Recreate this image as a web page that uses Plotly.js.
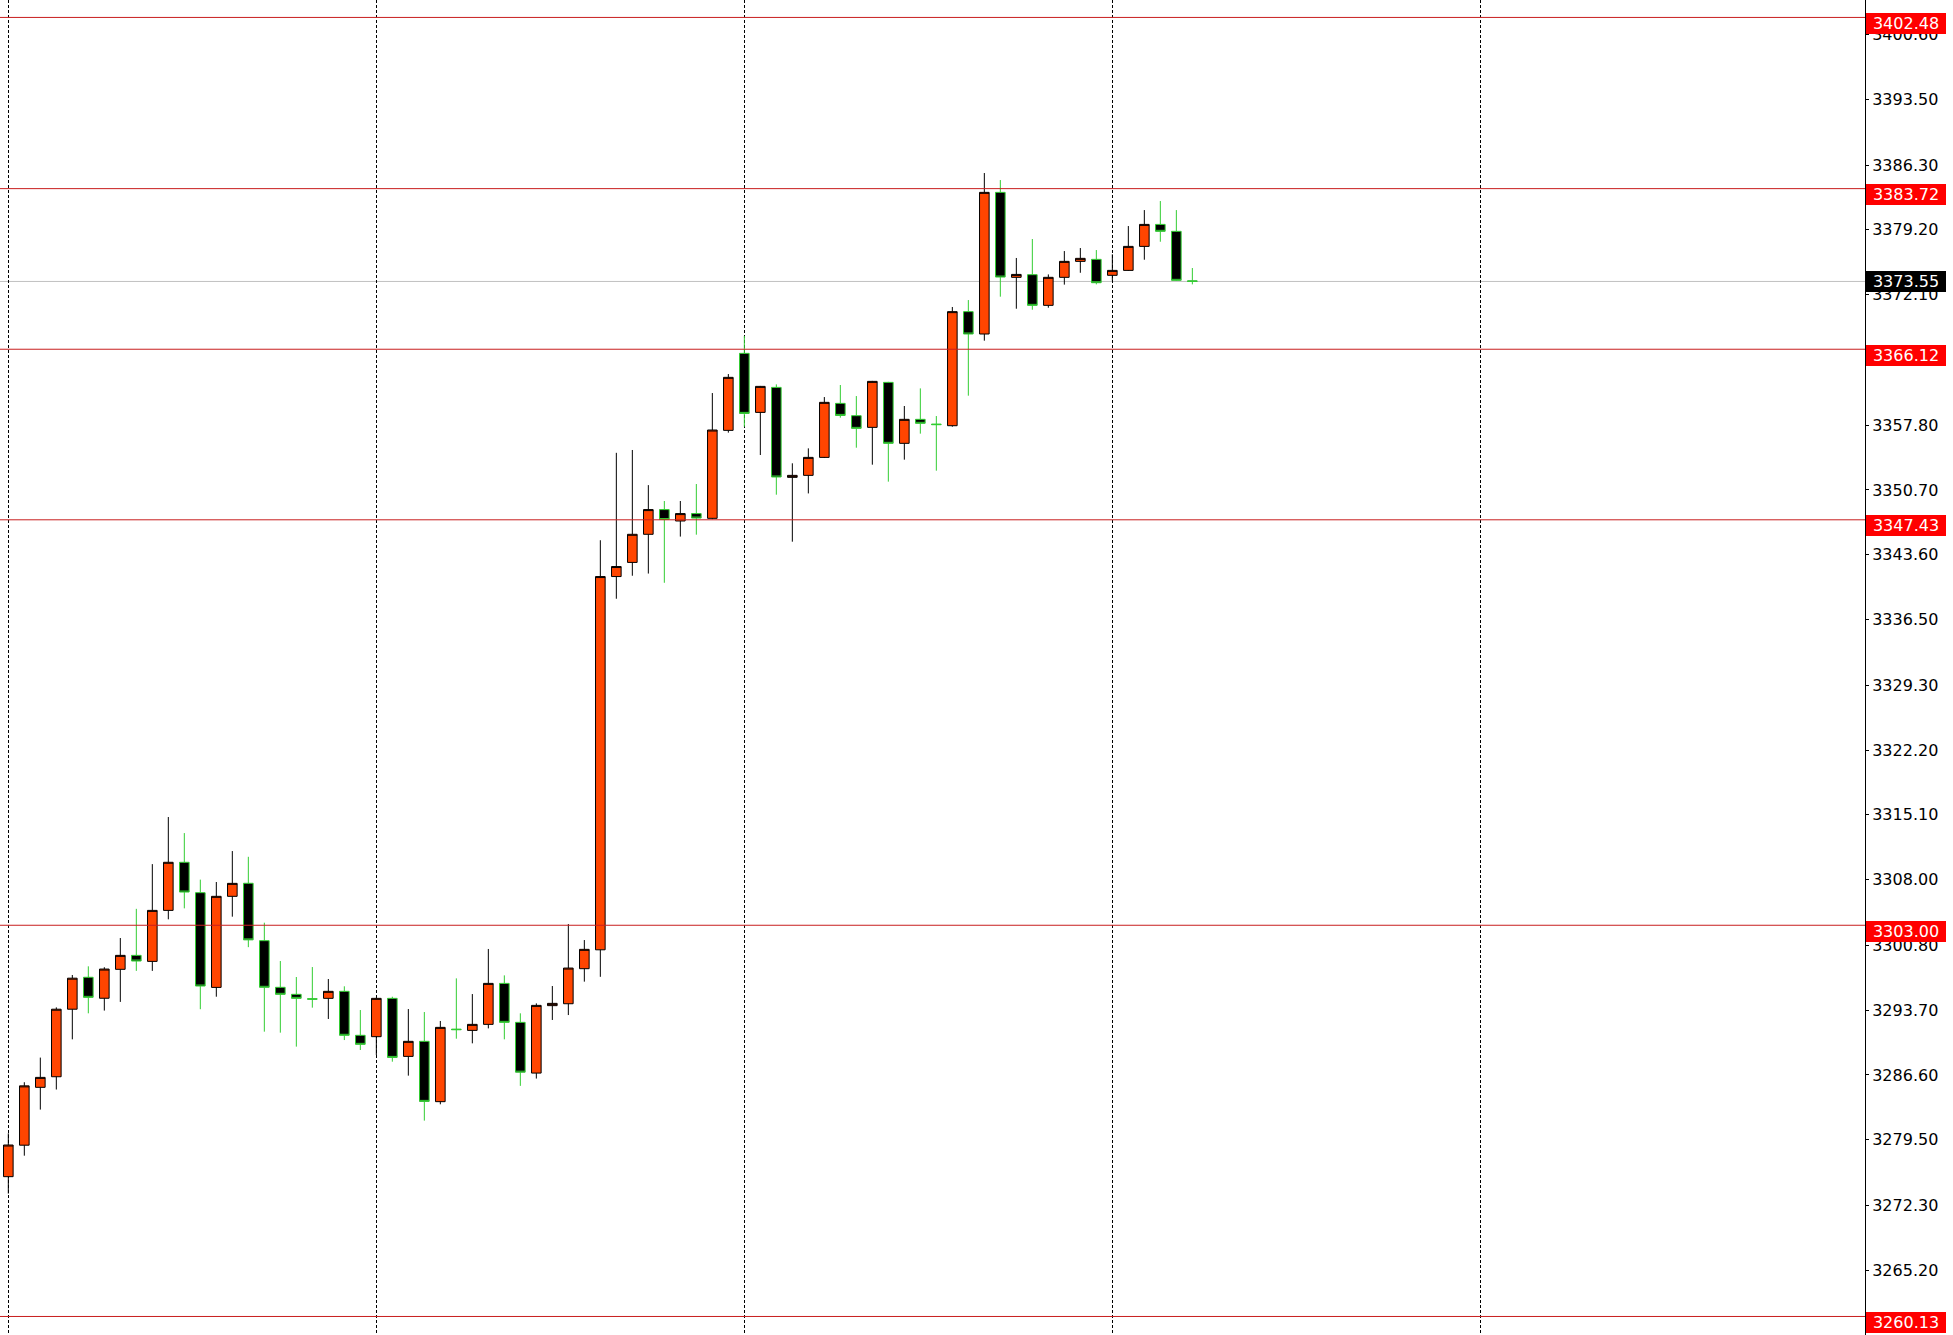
<!DOCTYPE html>
<html>
<head>
<meta charset="utf-8">
<script src="https://cdn.plot.ly/plotly-3.0.1.min.js"></script>
<style>
html, body { margin: 0; padding: 0; background: #ffffff; overflow: hidden; }
#chart { width: 1953px; height: 1335px; }
</style>
</head>
<body>
<div id="chart"></div>
<script>
// Bar index (time slot) of each candle
var barIndex = [];
for (var k = 0; k < 75; k++) barIndex.push(k);

var openPrices = [
  3275.45, 3278.90, 3285.24, 3286.40, 3293.80, 3297.30, 3295.00, 3298.17, 3299.70, 3299.04,
  3304.63, 3309.90, 3306.57, 3296.19, 3306.17, 3307.60, 3301.31, 3296.20, 3295.43, 3294.95,
  3294.99, 3295.76, 3290.94, 3290.79, 3294.99, 3288.63, 3290.28, 3283.67, 3291.62, 3291.48,
  3292.14, 3296.63, 3292.36, 3286.80, 3294.19, 3294.40, 3298.24, 3300.31, 3341.21, 3342.76,
  3345.84, 3348.55, 3347.30, 3348.11, 3347.59, 3357.23, 3365.67, 3359.20, 3361.94, 3352.08,
  3352.30, 3354.27, 3360.19, 3358.84, 3357.56, 3362.49, 3355.81, 3358.44, 3357.92, 3357.74,
  3370.24, 3367.79, 3383.31, 3374.00, 3374.29, 3370.93, 3374.00, 3375.75, 3375.97, 3374.22,
  3374.76, 3377.39, 3379.80, 3379.04, 3373.62
];
var highPrices = [
  3280.20, 3285.80, 3288.50, 3294.00, 3297.55, 3298.50, 3298.40, 3301.60, 3304.80, 3309.70,
  3314.86, 3313.10, 3308.00, 3307.74, 3311.13, 3310.50, 3303.28, 3299.08, 3297.33, 3298.42,
  3297.11, 3296.31, 3293.71, 3295.05, 3295.17, 3293.82, 3293.49, 3292.51, 3297.18, 3295.46,
  3300.40, 3297.51, 3293.35, 3294.44, 3296.34, 3303.13, 3301.38, 3345.19, 3354.77, 3355.08,
  3351.23, 3349.49, 3349.49, 3351.35, 3361.32, 3363.40, 3367.57, 3362.10, 3362.27, 3353.62,
  3355.26, 3360.88, 3362.20, 3360.99, 3362.65, 3362.55, 3359.90, 3361.83, 3358.80, 3370.75,
  3371.51, 3385.43, 3384.66, 3376.12, 3378.20, 3374.32, 3376.88, 3377.21, 3376.99, 3376.52,
  3379.62, 3381.37, 3382.36, 3381.37, 3375.02
];
var lowPrices = [
  3273.60, 3277.75, 3282.80, 3285.00, 3290.50, 3293.35, 3293.65, 3294.60, 3298.00, 3298.00,
  3303.65, 3304.85, 3293.80, 3295.17, 3303.94, 3300.60, 3291.34, 3291.23, 3289.70, 3293.97,
  3292.73, 3290.42, 3289.33, 3288.78, 3288.05, 3286.52, 3281.59, 3283.38, 3290.57, 3290.06,
  3291.70, 3290.50, 3285.40, 3286.20, 3292.62, 3293.16, 3296.82, 3297.35, 3338.78, 3341.30,
  3341.54, 3340.53, 3345.59, 3345.80, 3347.50, 3356.98, 3357.63, 3354.53, 3350.18, 3345.03,
  3350.32, 3354.20, 3358.62, 3355.33, 3353.47, 3351.61, 3354.02, 3356.87, 3352.81, 3357.63,
  3361.03, 3367.06, 3371.88, 3370.56, 3370.45, 3370.67, 3373.20, 3374.50, 3373.23, 3373.63,
  3374.70, 3375.93, 3377.90, 3373.60, 3373.23
];
var closePrices = [
  3278.92, 3285.40, 3286.33, 3293.80, 3297.20, 3295.10, 3298.20, 3299.70, 3299.08, 3304.63,
  3309.90, 3306.64, 3296.34, 3306.17, 3307.59, 3301.40, 3296.20, 3295.43, 3294.99, 3294.90,
  3295.76, 3290.94, 3289.95, 3294.99, 3288.52, 3290.28, 3283.70, 3291.81, 3291.56, 3292.14,
  3296.63, 3292.36, 3286.90, 3294.22, 3294.44, 3298.31, 3300.36, 3341.21, 3342.31, 3345.84,
  3348.55, 3347.46, 3348.11, 3347.62, 3357.27, 3363.04, 3359.09, 3362.05, 3352.12, 3352.30,
  3354.27, 3360.30, 3358.87, 3357.45, 3362.60, 3355.81, 3358.44, 3358.00, 3357.86, 3370.24,
  3367.79, 3383.31, 3374.03, 3374.32, 3370.93, 3374.00, 3375.75, 3376.08, 3373.41, 3374.76,
  3377.39, 3379.80, 3379.04, 3373.67, 3373.55
];

// Horizontal price levels drawn on the chart
var levelPrices = [3402.48, 3383.72, 3366.12, 3347.43, 3303.00, 3260.13];
var bidPrice = 3373.55;

// Price-scale tick labels
var priceTicks = [3400.60, 3393.50, 3386.30, 3379.20, 3372.10, 3365.00, 3357.80, 3350.70,
  3343.60, 3336.50, 3329.30, 3322.20, 3315.10, 3308.00, 3300.80, 3293.70, 3286.60, 3279.50,
  3272.30, 3265.20];
// Bars where the vertical dashed grid lines sit
var gridBars = [0, 23, 46, 69, 92];

var FONT = 'DejaVu Sans, Verdana, sans-serif';
var ORANGE = '#FF4500';
var GREEN = '#32CD32';
var LEVEL_RED = '#C81E1E';

var trace = {
  type: 'candlestick',
  x: barIndex,
  open: openPrices,
  high: highPrices,
  low: lowPrices,
  close: closePrices,
  whiskerwidth: 0,
  increasing: { line: { color: '#000000', width: 1 }, fillcolor: ORANGE },
  decreasing: { line: { color: GREEN, width: 1 }, fillcolor: '#000000' },
  hoverinfo: 'none',
  showlegend: false
};

var shapes = [];
shapes.push({
  type: 'line', xref: 'paper', x0: 0, x1: 1, yref: 'y', y0: bidPrice, y1: bidPrice,
  line: { color: '#C0C0C0', width: 1 }, layer: 'below'
});
levelPrices.forEach(function (p) {
  shapes.push({
    type: 'line', xref: 'paper', x0: 0, x1: 1, yref: 'y', y0: p, y1: p,
    line: { color: LEVEL_RED, width: 1 }, layer: 'above'
  });
});

var annotations = [];
levelPrices.forEach(function (p) {
  annotations.push({
    xref: 'paper', x: 1, xanchor: 'left', xshift: 1,
    yref: 'y', y: p, yanchor: 'middle', yshift: -6,
    text: p.toFixed(2), showarrow: false,
    font: { family: FONT, size: 16, color: '#FFFFFF' },
    bgcolor: '#FF0000', borderpad: 0, borderwidth: 0,
    width: 80, height: 21, align: 'center'
  });
});
annotations.push({
  xref: 'paper', x: 1, xanchor: 'left', xshift: 1,
  yref: 'y', y: bidPrice, yanchor: 'middle', yshift: 0,
  text: bidPrice.toFixed(2), showarrow: false,
  font: { family: FONT, size: 16, color: '#FFFFFF' },
  bgcolor: '#000000', borderpad: 0, borderwidth: 0,
  width: 80, height: 21, align: 'center'
});

var layout = {
  width: 1953,
  height: 1335,
  margin: { l: 0, r: 88, t: 0, b: 0, pad: 0 },
  paper_bgcolor: '#FFFFFF',
  plot_bgcolor: '#FFFFFF',
  showlegend: false,
  boxgap: 0.4,
  boxgroupgap: 0,
  xaxis: {
    range: [-0.52, 116.04],
    tickmode: 'array',
    tickvals: gridBars,
    showticklabels: false,
    ticks: '',
    showgrid: true,
    gridcolor: '#000000',
    gridwidth: 1,
    griddash: '3px,2px',
    zeroline: false,
    showline: false,
    fixedrange: true,
    rangeslider: { visible: false }
  },
  yaxis: {
    side: 'right',
    range: [3258.10, 3404.39],
    tickmode: 'array',
    tickvals: priceTicks,
    tickformat: '.2f',
    ticks: 'outside',
    ticklen: 3,
    tickcolor: '#000000',
    tickwidth: 1,
    showline: true,
    linecolor: '#000000',
    linewidth: 1,
    showgrid: false,
    zeroline: false,
    fixedrange: true,
    tickfont: { family: FONT, size: 16, color: '#000000' }
  },
  shapes: shapes,
  annotations: annotations
};

Plotly.newPlot('chart', [trace], layout, { staticPlot: true, displayModeBar: false });
</script>
</body>
</html>
